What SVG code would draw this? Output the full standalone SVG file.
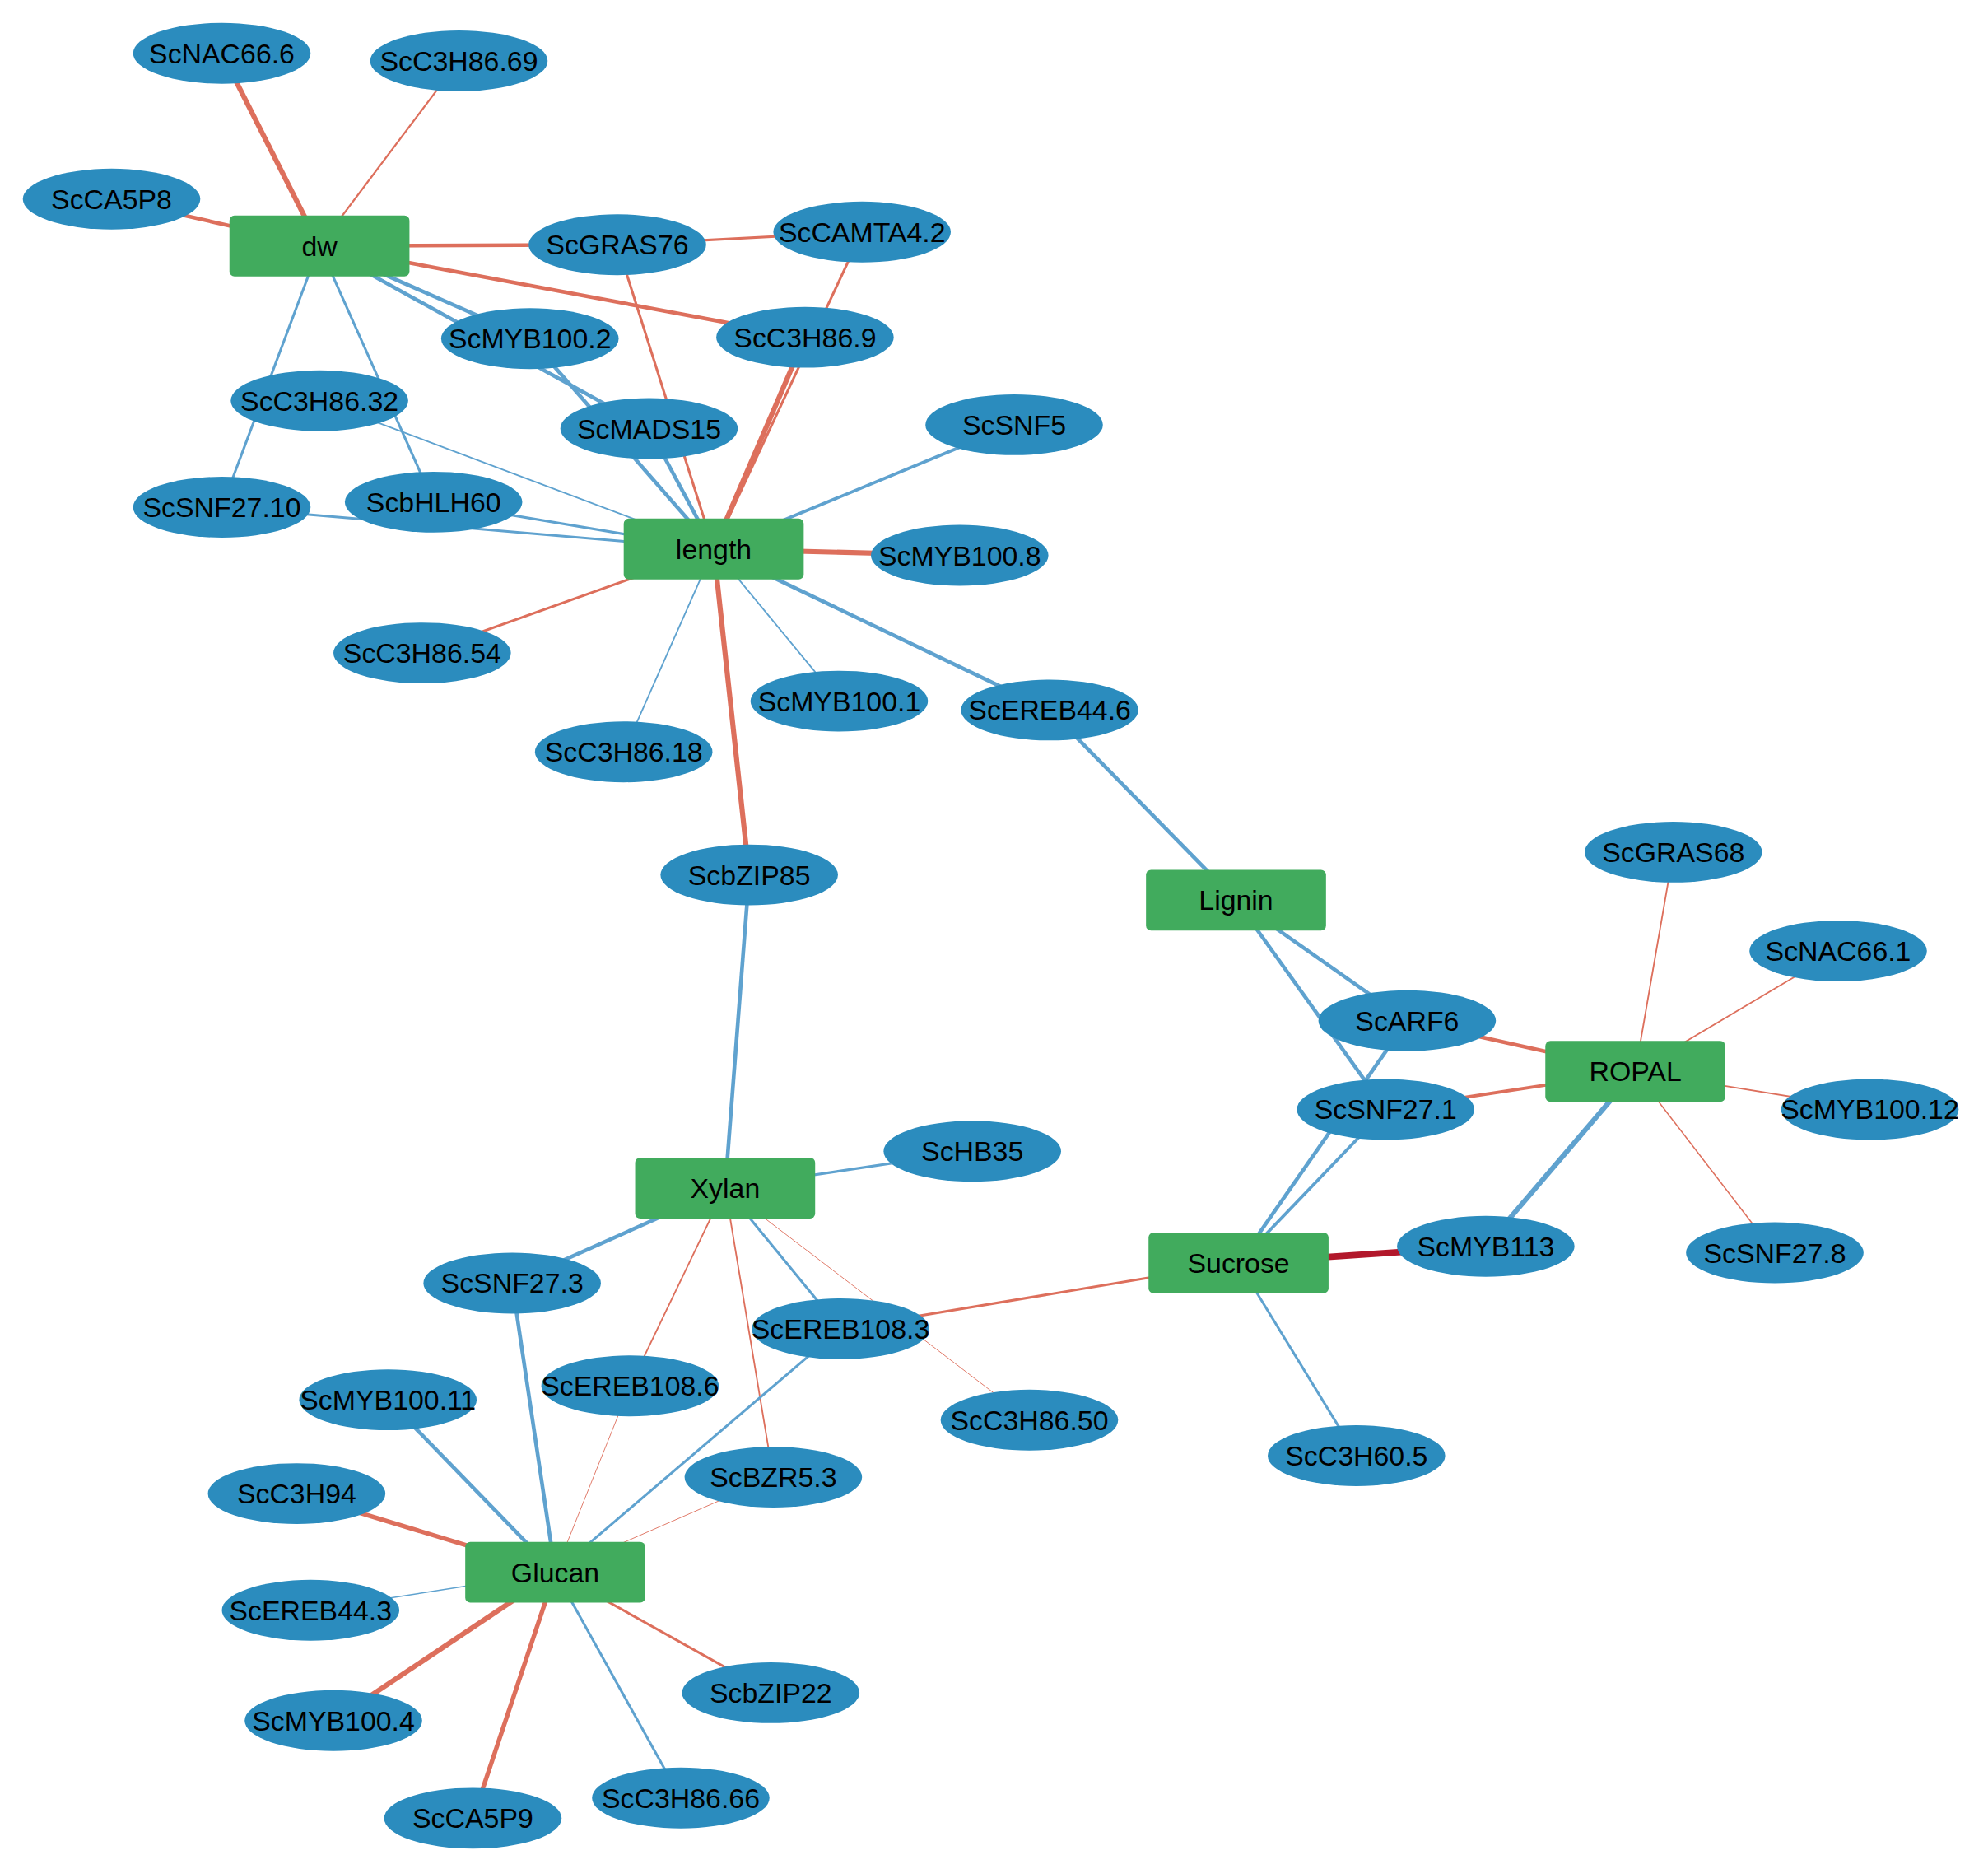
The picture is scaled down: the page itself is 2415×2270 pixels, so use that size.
<svg xmlns="http://www.w3.org/2000/svg" width="2415" height="2270" viewBox="0 0 2415 2270">
<style>
.r{stroke:#dd6f5c;fill:none}.b{stroke:#5fa2cf;fill:none}.d{stroke:#b2182b;fill:none}
ellipse{fill:#2b8cbe}.g{fill:#41ab5d}
text{font-family:"Liberation Sans",Arial,sans-serif;font-size:22px;text-anchor:middle;dominant-baseline:central;fill:#000}
</style>
<rect width="2415" height="2270" fill="#ffffff"/>
<g transform="scale(1.54)">
<g id="edges">
<line class="r" stroke-width="4" x1="252" y1="194" x2="175" y2="42"/>
<line class="r" stroke-width="1.5" x1="252" y1="194" x2="362" y2="48"/>
<line class="r" stroke-width="3" x1="252" y1="194" x2="88" y2="157"/>
<line class="r" stroke-width="3" x1="252" y1="194" x2="487" y2="193"/>
<line class="r" stroke-width="3" x1="252" y1="194" x2="635" y2="266"/>
<line class="b" stroke-width="3" x1="252" y1="194" x2="418" y2="267"/>
<line class="b" stroke-width="3" x1="252" y1="194" x2="512" y2="338"/>
<line class="b" stroke-width="2" x1="252" y1="194" x2="175" y2="400"/>
<line class="b" stroke-width="2" x1="252" y1="194" x2="342" y2="396"/>
<line class="r" stroke-width="2" x1="487" y1="193" x2="680" y2="183"/>
<line class="r" stroke-width="2" x1="487" y1="193" x2="563" y2="433"/>
<line class="r" stroke-width="2" x1="680" y1="183" x2="563" y2="433"/>
<line class="r" stroke-width="4" x1="635" y1="266" x2="563" y2="433"/>
<line class="b" stroke-width="3" x1="418" y1="267" x2="563" y2="433"/>
<line class="b" stroke-width="3" x1="512" y1="338" x2="563" y2="433"/>
<line class="b" stroke-width="1.2" x1="252" y1="316" x2="563" y2="433"/>
<line class="b" stroke-width="2" x1="175" y1="400" x2="563" y2="433"/>
<line class="b" stroke-width="2" x1="342" y1="396" x2="563" y2="433"/>
<line class="b" stroke-width="2.5" x1="800" y1="335" x2="563" y2="433"/>
<line class="r" stroke-width="4" x1="757" y1="438" x2="563" y2="433"/>
<line class="r" stroke-width="2" x1="333" y1="515" x2="563" y2="433"/>
<line class="b" stroke-width="1.2" x1="662" y1="553" x2="563" y2="433"/>
<line class="b" stroke-width="3" x1="828" y1="560" x2="563" y2="433"/>
<line class="b" stroke-width="1.2" x1="492" y1="593" x2="563" y2="433"/>
<line class="r" stroke-width="4" x1="591" y1="690" x2="563" y2="433"/>
<line class="b" stroke-width="3" x1="828" y1="560" x2="975" y2="710"/>
<line class="b" stroke-width="3" x1="591" y1="690" x2="572" y2="937"/>
<line class="b" stroke-width="3" x1="975" y1="710" x2="1110" y2="805"/>
<line class="b" stroke-width="3" x1="975" y1="710" x2="1093" y2="875"/>
<line class="r" stroke-width="3" x1="1110" y1="805" x2="1290" y2="845"/>
<line class="r" stroke-width="2.5" x1="1093" y1="875" x2="1290" y2="845"/>
<line class="b" stroke-width="3" x1="1110" y1="805" x2="977" y2="996"/>
<line class="b" stroke-width="2.5" x1="1093" y1="875" x2="977" y2="996"/>
<line class="r" stroke-width="1.2" x1="1320" y1="672" x2="1290" y2="845"/>
<line class="r" stroke-width="1.2" x1="1450" y1="750" x2="1290" y2="845"/>
<line class="r" stroke-width="1.2" x1="1475" y1="875" x2="1290" y2="845"/>
<line class="r" stroke-width="1" x1="1400" y1="988" x2="1290" y2="845"/>
<line class="b" stroke-width="4" x1="1172" y1="983" x2="1290" y2="845"/>
<line class="d" stroke-width="5" x1="1172" y1="983" x2="977" y2="996"/>
<line class="r" stroke-width="2" x1="663" y1="1048" x2="977" y2="996"/>
<line class="b" stroke-width="2" x1="1070" y1="1148" x2="977" y2="996"/>
<line class="b" stroke-width="2" x1="767" y1="908" x2="572" y2="937"/>
<line class="b" stroke-width="3" x1="404" y1="1012" x2="572" y2="937"/>
<line class="r" stroke-width="1.2" x1="497" y1="1093" x2="572" y2="937"/>
<line class="r" stroke-width="1.2" x1="610" y1="1165" x2="572" y2="937"/>
<line class="b" stroke-width="2" x1="663" y1="1048" x2="572" y2="937"/>
<line class="r" stroke-width="0.6" x1="812" y1="1120" x2="572" y2="937"/>
<line class="b" stroke-width="3" x1="404" y1="1012" x2="438" y2="1240"/>
<line class="b" stroke-width="3" x1="306" y1="1104" x2="438" y2="1240"/>
<line class="r" stroke-width="3.5" x1="234" y1="1178" x2="438" y2="1240"/>
<line class="b" stroke-width="1" x1="245" y1="1270" x2="438" y2="1240"/>
<line class="r" stroke-width="4" x1="263" y1="1357" x2="438" y2="1240"/>
<line class="r" stroke-width="3.5" x1="373" y1="1434" x2="438" y2="1240"/>
<line class="b" stroke-width="2" x1="537" y1="1418" x2="438" y2="1240"/>
<line class="r" stroke-width="2" x1="608" y1="1335" x2="438" y2="1240"/>
<line class="b" stroke-width="2" x1="663" y1="1048" x2="438" y2="1240"/>
<line class="r" stroke-width="0.6" x1="497" y1="1093" x2="438" y2="1240"/>
<line class="r" stroke-width="0.6" x1="610" y1="1165" x2="438" y2="1240"/>
</g>
<g id="n1"><ellipse cx="175" cy="42" rx="70" ry="24"/><text x="175" y="42">ScNAC66.6</text></g>
<g id="n2"><ellipse cx="362" cy="48" rx="70" ry="24"/><text x="362" y="48">ScC3H86.69</text></g>
<g id="n3"><ellipse cx="88" cy="157" rx="70" ry="24"/><text x="88" y="157">ScCA5P8</text></g>
<g id="n4"><ellipse cx="487" cy="193" rx="70" ry="24"/><text x="487" y="193">ScGRAS76</text></g>
<g id="n5"><ellipse cx="680" cy="183" rx="70" ry="24"/><text x="680" y="183">ScCAMTA4.2</text></g>
<g id="n6"><ellipse cx="635" cy="266" rx="70" ry="24"/><text x="635" y="266">ScC3H86.9</text></g>
<g id="n7"><ellipse cx="418" cy="267" rx="70" ry="24"/><text x="418" y="267">ScMYB100.2</text></g>
<g id="n8"><ellipse cx="252" cy="316" rx="70" ry="24"/><text x="252" y="316">ScC3H86.32</text></g>
<g id="n9"><ellipse cx="512" cy="338" rx="70" ry="24"/><text x="512" y="338">ScMADS15</text></g>
<g id="n10"><ellipse cx="800" cy="335" rx="70" ry="24"/><text x="800" y="335">ScSNF5</text></g>
<g id="n11"><ellipse cx="175" cy="400" rx="70" ry="24"/><text x="175" y="400">ScSNF27.10</text></g>
<g id="n12"><ellipse cx="342" cy="396" rx="70" ry="24"/><text x="342" y="396">ScbHLH60</text></g>
<g id="n13"><ellipse cx="757" cy="438" rx="70" ry="24"/><text x="757" y="438">ScMYB100.8</text></g>
<g id="n14"><ellipse cx="333" cy="515" rx="70" ry="24"/><text x="333" y="515">ScC3H86.54</text></g>
<g id="n15"><ellipse cx="662" cy="553" rx="70" ry="24"/><text x="662" y="553">ScMYB100.1</text></g>
<g id="n16"><ellipse cx="828" cy="560" rx="70" ry="24"/><text x="828" y="560">ScEREB44.6</text></g>
<g id="n17"><ellipse cx="492" cy="593" rx="70" ry="24"/><text x="492" y="593">ScC3H86.18</text></g>
<g id="n18"><ellipse cx="591" cy="690" rx="70" ry="24"/><text x="591" y="690">ScbZIP85</text></g>
<g id="n19"><ellipse cx="1320" cy="672" rx="70" ry="24"/><text x="1320" y="672">ScGRAS68</text></g>
<g id="n20"><ellipse cx="1450" cy="750" rx="70" ry="24"/><text x="1450" y="750">ScNAC66.1</text></g>
<g id="n21"><ellipse cx="1110" cy="805" rx="70" ry="24"/><text x="1110" y="805">ScARF6</text></g>
<g id="n22"><ellipse cx="1093" cy="875" rx="70" ry="24"/><text x="1093" y="875">ScSNF27.1</text></g>
<g id="n23"><ellipse cx="1475" cy="875" rx="70" ry="24"/><text x="1475" y="875">ScMYB100.12</text></g>
<g id="n24"><ellipse cx="767" cy="908" rx="70" ry="24"/><text x="767" y="908">ScHB35</text></g>
<g id="n25"><ellipse cx="1172" cy="983" rx="70" ry="24"/><text x="1172" y="983">ScMYB113</text></g>
<g id="n26"><ellipse cx="1400" cy="988" rx="70" ry="24"/><text x="1400" y="988">ScSNF27.8</text></g>
<g id="n27"><ellipse cx="404" cy="1012" rx="70" ry="24"/><text x="404" y="1012">ScSNF27.3</text></g>
<g id="n28"><ellipse cx="663" cy="1048" rx="70" ry="24"/><text x="663" y="1048">ScEREB108.3</text></g>
<g id="n29"><ellipse cx="497" cy="1093" rx="70" ry="24"/><text x="497" y="1093">ScEREB108.6</text></g>
<g id="n30"><ellipse cx="306" cy="1104" rx="70" ry="24"/><text x="306" y="1104">ScMYB100.11</text></g>
<g id="n31"><ellipse cx="812" cy="1120" rx="70" ry="24"/><text x="812" y="1120">ScC3H86.50</text></g>
<g id="n32"><ellipse cx="1070" cy="1148" rx="70" ry="24"/><text x="1070" y="1148">ScC3H60.5</text></g>
<g id="n33"><ellipse cx="610" cy="1165" rx="70" ry="24"/><text x="610" y="1165">ScBZR5.3</text></g>
<g id="n34"><ellipse cx="234" cy="1178" rx="70" ry="24"/><text x="234" y="1178">ScC3H94</text></g>
<g id="n35"><ellipse cx="245" cy="1270" rx="70" ry="24"/><text x="245" y="1270">ScEREB44.3</text></g>
<g id="n36"><ellipse cx="608" cy="1335" rx="70" ry="24"/><text x="608" y="1335">ScbZIP22</text></g>
<g id="n37"><ellipse cx="263" cy="1357" rx="70" ry="24"/><text x="263" y="1357">ScMYB100.4</text></g>
<g id="n38"><ellipse cx="537" cy="1418" rx="70" ry="24"/><text x="537" y="1418">ScC3H86.66</text></g>
<g id="n39"><ellipse cx="373" cy="1434" rx="70" ry="24"/><text x="373" y="1434">ScCA5P9</text></g>
<g id="dw"><rect class="g" x="181" y="170" width="142" height="48" rx="4"/><text x="252" y="194">dw</text></g>
<g id="length"><rect class="g" x="492" y="409" width="142" height="48" rx="4"/><text x="563" y="433">length</text></g>
<g id="Lignin"><rect class="g" x="904" y="686" width="142" height="48" rx="4"/><text x="975" y="710">Lignin</text></g>
<g id="ROPAL"><rect class="g" x="1219" y="821" width="142" height="48" rx="4"/><text x="1290" y="845">ROPAL</text></g>
<g id="Xylan"><rect class="g" x="501" y="913" width="142" height="48" rx="4"/><text x="572" y="937">Xylan</text></g>
<g id="Sucrose"><rect class="g" x="906" y="972" width="142" height="48" rx="4"/><text x="977" y="996">Sucrose</text></g>
<g id="Glucan"><rect class="g" x="367" y="1216" width="142" height="48" rx="4"/><text x="438" y="1240">Glucan</text></g>
</g>
</svg>
